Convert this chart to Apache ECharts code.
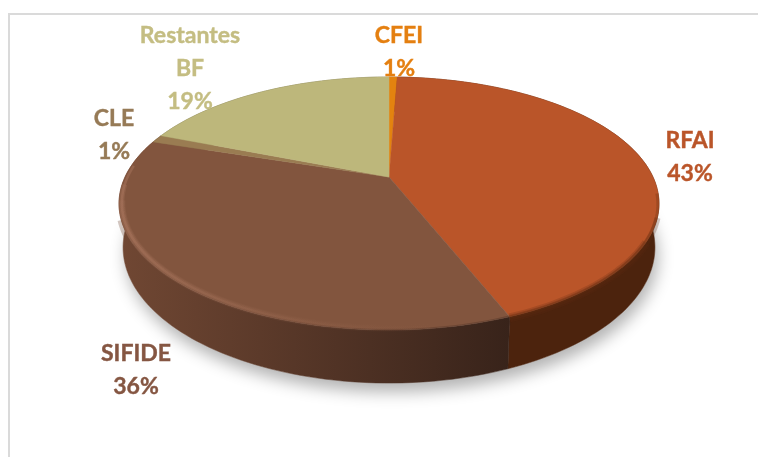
<!DOCTYPE html>
<html>
<head>
<meta charset="utf-8">
<style>
  html, body { margin: 0; padding: 0; background: #fff; }
  #chart { width: 758px; height: 457px; }
</style>
</head>
<body>
<div id="chart"></div>
<script src="https://cdn.jsdelivr.net/npm/echarts@6/dist/echarts.min.js"></script>
<script>
// clockwise from 12 o'clock
var names = ['CFEI', 'RFAI', 'SIFIDE', 'CLE', 'Restantes\nBF'];
var values = [0.6, 43.4, 36, 1, 19];

var topColors = ['#E3830F', '#BA5529', '#82553E', '#9A7C52', '#BDB77B'];
var textColors = ['#E47F10', '#BA5529', '#855642', '#967A56', '#C4BD82'];
// left and right end of the side wall
var wallColors = [
  ['#6b3a12', '#6b3a12'],
  ['#4C230D', '#4C230D'],
  ['#704733', '#38231A'],
  ['#5a4630', '#5a4630'],
  ['#6e6a44', '#6e6a44']
];
// label block centres, placed by hand like the original
var labelPos = [[399, 52], [690, 157], [136, 370], [114, 135], [190, 69]];

// perspective of the disc: apex, radii, tilt, thickness
var apexX = 389, apexY = 177;
var radX = 264, radY = 121, tilt = 0.2095, thick = 41.9, bottomShrink = 0.985;

var total = values.reduce(function (a, b) { return a + b; }, 0);
var starts = [];
values.reduce(function (sum, v, i) { starts[i] = sum / total; return sum + v; }, 0);

function project(frac, r, drop, shrink) {
  var a = frac * Math.PI * 2;
  var X = Math.sin(a) * r, Y = Math.cos(a) * r;
  var w = 1 + tilt * Y;
  return [apexX + shrink * radX * X / w, apexY + (-radY * Y + drop) / w];
}

function arc(from, to, r, drop, shrink) {
  var n = Math.max(2, Math.ceil((to - from) * 240));
  var pts = [];
  for (var i = 0; i <= n; i++) {
    pts.push(project(from + (to - from) * i / n, r, drop, shrink));
  }
  return pts;
}

function hGradient(x0, x1, c0, c1) {
  return new echarts.graphic.LinearGradient(x0, 0, x1, 0, [
    { offset: 0, color: c0 }, { offset: 1, color: c1 }
  ], true);
}

function renderShadow() {
  return {
    type: 'polygon',
    shape: { points: arc(0, 1, 1, thick, bottomShrink) },
    style: {
      fill: '#fff',
      shadowColor: 'rgba(0,0,0,0.3)',
      shadowBlur: 16,
      shadowOffsetX: 3,
      shadowOffsetY: 9
    }
  };
}

function renderWall(params) {
  var i = params.dataIndex;
  var end = starts[i] + values[i] / total;
  var pts = arc(starts[i], end, 1, 0, 1)
    .concat(arc(starts[i], end, 1, thick, bottomShrink).reverse());
  var fill = hGradient(120, 510, wallColors[i][0], wallColors[i][1]);
  return {
    type: 'polygon',
    shape: { points: pts },
    style: { fill: fill, stroke: fill, lineWidth: 0.5 }
  };
}

function renderTop(params) {
  var i = params.dataIndex;
  var end = starts[i] + values[i] / total;
  var pts = [[apexX, apexY]].concat(arc(starts[i], end, 1, 0, 1));
  return {
    type: 'polygon',
    shape: { points: pts },
    style: { fill: topColors[i], stroke: topColors[i], lineWidth: 0.5 }
  };
}

function rimLine(from, to, r, drop, width, stroke) {
  return {
    type: 'polyline',
    shape: { points: arc(from, to, r, drop, 1) },
    style: { fill: null, stroke: stroke, lineWidth: width }
  };
}

// soft bevel along the front rim of the two big slices,
// wider strokes stop earlier so they stay inside the silhouette
function renderRim() {
  var r1 = starts[2], s0 = starts[2];
  var sideL = 'rgba(112,71,51,0.3)', sideR = 'rgba(56,35,26,0.3)';
  var glowL = 'rgba(170,118,94,', glowR = 'rgba(130,85,62,0)';
  return {
    type: 'group',
    children: [
      rimLine(0.33, r1, 1, 1, 9, 'rgba(90,40,16,0.22)'),
      rimLine(0.30, r1, 1, 1, 6, 'rgba(90,40,16,0.25)'),
      rimLine(0.27, r1, 0.996, 1, 3, 'rgba(100,45,18,0.3)'),
      rimLine(s0, 0.67, 1, 3, 10, hGradient(120, 510, sideL, sideR)),
      rimLine(s0, 0.70, 1, 3, 6, hGradient(120, 510, sideL, sideR)),
      rimLine(s0 + 0.04, 0.72, 0.99, 0, 7, hGradient(120, 470, glowL + '0.2)', glowR)),
      rimLine(s0 + 0.04, 0.74, 0.99, 0, 5, hGradient(120, 470, glowL + '0.3)', glowR)),
      rimLine(s0 + 0.04, 0.765, 0.99, 0, 2.5, hGradient(120, 470, glowL + '0.5)', glowR))
    ]
  };
}

function renderLabel(params) {
  var i = params.dataIndex;
  return {
    type: 'text',
    x: labelPos[i][0],
    y: labelPos[i][1],
    style: {
      text: names[i] + '\n' + Math.round(values[i] / total * 100) + '%',
      fill: textColors[i],
      stroke: textColors[i],
      lineWidth: 0.4,
      font: 'bold 23px Lato',
      lineHeight: 33,
      align: 'center',
      verticalAlign: 'middle'
    }
  };
}

function layer(z, render, data) {
  return {
    type: 'custom',
    coordinateSystem: 'none',
    silent: true,
    z: z,
    clip: false,
    renderItem: render,
    data: data
  };
}

var chart = echarts.init(document.getElementById('chart'));
chart.setOption({
  animation: false,
  backgroundColor: '#fff',
  graphic: [
    { type: 'line', shape: { x1: 9, y1: 13, x2: 9, y2: 457 }, style: { stroke: '#DADADA', lineWidth: 2 } },
    { type: 'line', shape: { x1: 8, y1: 14, x2: 758, y2: 14 }, style: { stroke: '#DADADA', lineWidth: 2 } }
  ],
  series: [
    layer(1, renderShadow, [total]),
    layer(2, renderWall, values),
    layer(3, renderTop, values),
    layer(4, renderRim, [total]),
    layer(5, renderLabel, values)
  ]
});
</script>
</body>
</html>
